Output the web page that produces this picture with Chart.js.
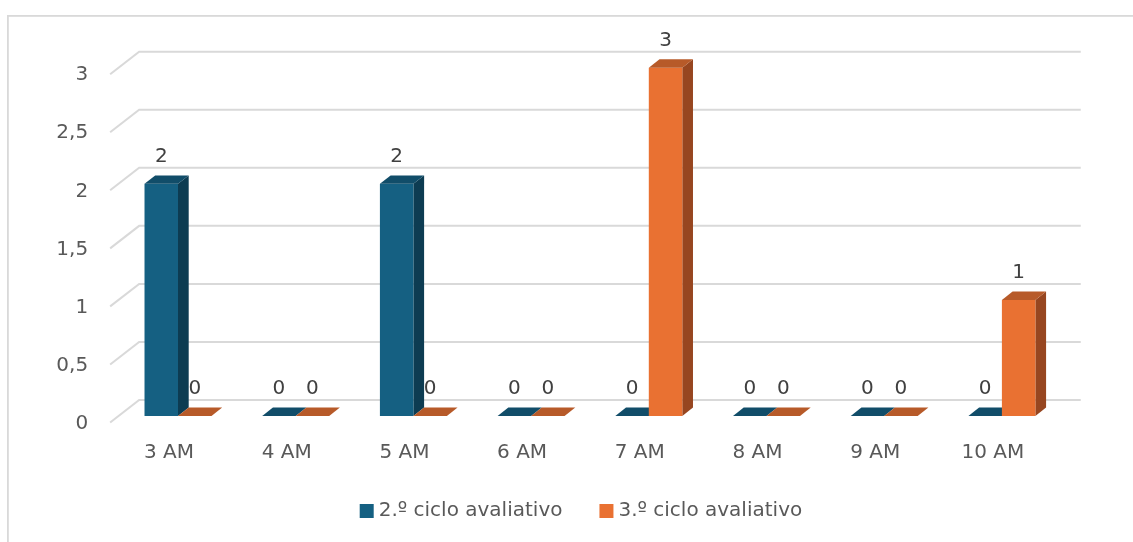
<!DOCTYPE html>
<html>
<head>
<meta charset="utf-8">
<script src="https://cdn.jsdelivr.net/npm/chart.js@4.4.1/dist/chart.umd.min.js"></script>
<style>
  html, body { margin: 0; padding: 0; background: #ffffff; }
  #wrap { width: 1133px; height: 542px; position: relative; }
</style>
</head>
<body>
<div id="wrap"><canvas id="chart"></canvas></div>
<script>
// Hour slots and the count recorded in each evaluation cycle
const categories = ['3 AM', '4 AM', '5 AM', '6 AM', '7 AM', '8 AM', '9 AM', '10 AM'];
const ciclo2 = [2, 0, 2, 0, 0, 0, 0, 0];
const ciclo3 = [0, 0, 0, 0, 3, 0, 0, 1];
const seriesNames = ['2.º ciclo avaliativo', '3.º ciclo avaliativo'];
const yTickLabels = ['0', '0,5', '1', '1,5', '2', '2,5', '3'];

// Face colours for each series: front, top, side
const frontColors = ['#156082', '#e97132'];
const topColors = ['#114d69', '#b75a29'];
const sideColors = ['#0d3c52', '#974620'];

const FONT = '"DejaVu Sans", "Open Sans", sans-serif';
const AXIS_COLOR = '#595959';
const LABEL_COLOR = '#404040';
const GRID_COLOR = '#d9d9d9';

// Oblique projection used for the 3-D look
const P = {
  wallDx: 29, wallDy: 22.5,     // front plane -> back wall
  shiftDx: 9, shiftDy: 6.5,     // front plane -> bar front face
  depthDx: 10.7, depthDy: 8.4   // bar thickness
};

function poly(ctx, pts, color) {
  ctx.beginPath();
  ctx.moveTo(pts[0][0], pts[0][1]);
  for (let k = 1; k < pts.length; k++) ctx.lineTo(pts[k][0], pts[k][1]);
  ctx.closePath();
  ctx.fillStyle = color;
  ctx.fill();
}

const columns3d = {
  id: 'columns3d',
  beforeDraw(chart) {
    const { ctx, width, height } = chart;
    ctx.save();
    ctx.fillStyle = '#ffffff';
    ctx.fillRect(0, 0, width, height);
    ctx.restore();
  },
  beforeDatasetsDraw(chart) {
    // Back wall gridlines with their receding side-wall segments
    const { ctx, chartArea: a, scales: { y } } = chart;
    ctx.save();
    ctx.strokeStyle = GRID_COLOR;
    ctx.lineWidth = 2;
    y.ticks.forEach(t => {
      const py = y.getPixelForValue(t.value);
      ctx.beginPath();
      ctx.moveTo(a.left, py);
      ctx.lineTo(a.left + P.wallDx, py - P.wallDy);
      ctx.lineTo(a.right + P.wallDx, py - P.wallDy);
      ctx.stroke();
    });
    ctx.restore();
  },
  beforeDatasetDraw() {
    return false; // columns are drawn as prisms below
  },
  afterDatasetsDraw(chart) {
    const { ctx } = chart;
    const sets = chart.data.datasets;
    const labels = [];
    ctx.save();
    for (let i = 0; i < categories.length; i++) {
      sets.forEach((ds, d) => {
        const el = chart.getDatasetMeta(d).data[i];
        const { x, y, base, width } = el.getProps(['x', 'y', 'base', 'width'], true);
        const x0 = x - width / 2 + P.shiftDx;
        const x1 = x + width / 2 + P.shiftDx;
        const yt = y - P.shiftDy;
        const yb = base - P.shiftDy;
        const dx = P.depthDx, dy = P.depthDy;
        // side face
        poly(ctx, [[x1, yt], [x1 + dx, yt - dy], [x1 + dx, yb - dy], [x1, yb]], sideColors[d]);
        // front face
        if (yb - yt > 0.01) poly(ctx, [[x0, yt], [x1, yt], [x1, yb], [x0, yb]], frontColors[d]);
        // top face
        poly(ctx, [[x0, yt], [x1, yt], [x1 + dx, yt - dy], [x0 + dx, yt - dy]], topColors[d]);
        labels.push({ x: (x0 + x1) / 2, y: yt - dy - 18.5, text: String(ds.data[i]) });
      });
    }
    ctx.font = '20px ' + FONT;
    ctx.fillStyle = LABEL_COLOR;
    ctx.textAlign = 'center';
    ctx.textBaseline = 'middle';
    labels.forEach(l => ctx.fillText(l.text, l.x, l.y));
    ctx.restore();
  },
  afterDraw(chart) {
    const { ctx, chartArea: a } = chart;
    ctx.save();
    // chart frame
    ctx.fillStyle = GRID_COLOR;
    ctx.fillRect(7, 15, 1133, 1.8);
    ctx.fillRect(7, 15, 1.8, 542);

    // legend
    ctx.font = '20px ' + FONT;
    ctx.textBaseline = 'middle';
    ctx.textAlign = 'left';
    const box = 14, gapText = 5, gapItem = 37;
    const widths = seriesNames.map(s => ctx.measureText(s).width);
    let total = 0;
    widths.forEach((w, k) => { total += box + gapText + w + (k ? gapItem : 0); });
    let cx = (a.left + a.right) / 2 - total / 2;
    const cy = 511;
    seriesNames.forEach((s, k) => {
      ctx.fillStyle = frontColors[k];
      ctx.fillRect(cx, cy - box / 2, box, box);
      ctx.fillStyle = AXIS_COLOR;
      ctx.fillText(s, cx + box + gapText, cy);
      cx += box + gapText + widths[k] + gapItem;
    });
    ctx.restore();
  }
};

new Chart(document.getElementById('chart'), {
  type: 'bar',
  data: {
    labels: categories,
    datasets: [
      { label: seriesNames[0], data: ciclo2, backgroundColor: frontColors[0] },
      { label: seriesNames[1], data: ciclo3, backgroundColor: frontColors[1] }
    ]
  },
  options: {
    responsive: true,
    maintainAspectRatio: false,
    animation: false,
    categoryPercentage: 0.569,
    barPercentage: 1,
    layout: { padding: { left: 0, right: 81.25, top: 74.2, bottom: 0 } },
    plugins: {
      legend: { display: false },
      tooltip: { enabled: false }
    },
    scales: {
      x: {
        grid: { display: false, drawTicks: false },
        border: { display: false },
        ticks: {
          color: AXIS_COLOR,
          font: { family: FONT, size: 20 },
          padding: 18,
          maxRotation: 0,
          autoSkip: false
        },
        afterFit(s) { s.height = 119.5; }
      },
      y: {
        min: 0,
        max: 3,
        grid: { display: false, drawTicks: false },
        border: { display: false },
        ticks: {
          stepSize: 0.5,
          color: AXIS_COLOR,
          font: { family: FONT, size: 20 },
          padding: 22,
          labelOffset: 1,
          callback: (v) => yTickLabels[Math.round(v * 2)]
        },
        afterFit(s) { s.width = 110.15; }
      }
    }
  },
  plugins: [columns3d]
});
</script>
</body>
</html>
